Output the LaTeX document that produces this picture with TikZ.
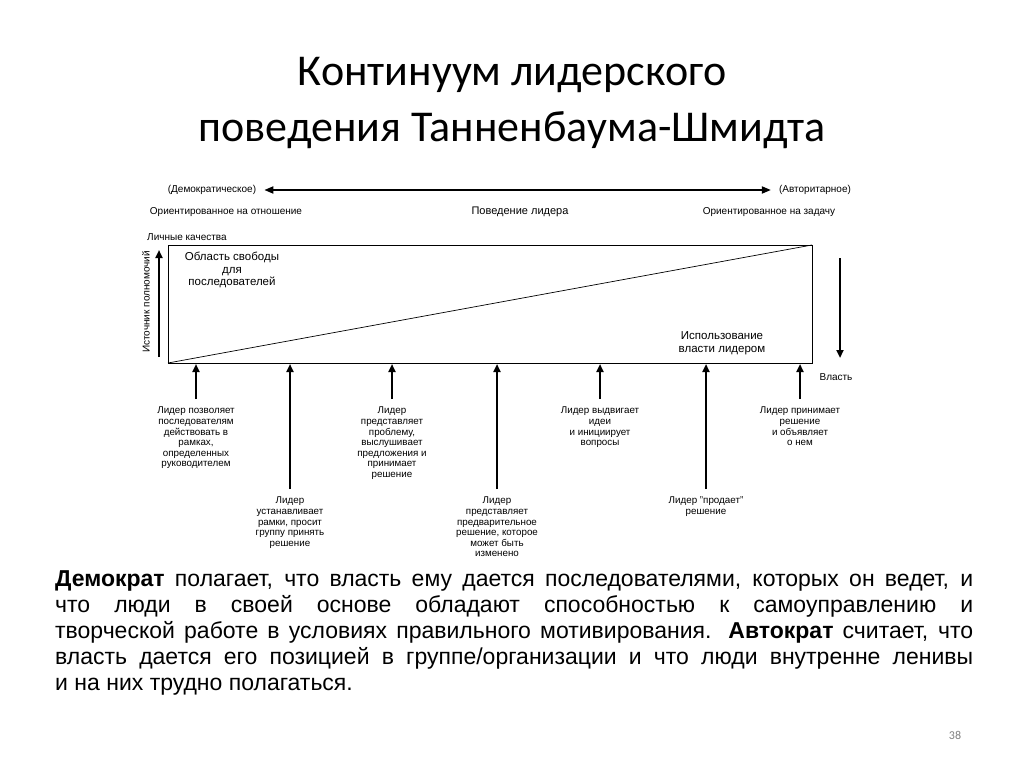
\documentclass[tikz,border=0pt]{standalone}
\usepackage{fontspec}
\setmainfont{Liberation Sans}
\newfontfamily\titlefont{Carlito}
\usetikzlibrary{arrows.meta}
\begin{document}
\begin{tikzpicture}[x=1pt,y=-1pt,
  sm/.style={font=\fontsize{9.8}{10.6}\selectfont, align=center, inner sep=0pt},
  lbl/.style={font=\fontsize{10}{12}\selectfont, inner sep=0pt},
  big/.style={font=\fontsize{11.5}{12.5}\selectfont, align=center, inner sep=0pt},
  thick arrow/.style={line width=2pt,-{Triangle[length=8pt,width=7pt]}}]
\useasboundingbox (0,0) rectangle (1024,767);
\node[font=\titlefont\fontsize{44}{56}\selectfont, align=center] (title) at (512,103) {Континуум лидерского\\поведения Танненбаума-Шмидта};
% top row
\node[lbl] (dem) at (212,190) {(Демократическое)};
\node[lbl] (aut) at (815,190) {(Авторитарное)};
\draw[line width=1.8pt,{Triangle[length=9pt,width=7pt]}-{Triangle[length=9pt,width=7pt]}] (dem.east)++(8,0) coordinate (d1) (aut.west)++(-8,0) coordinate (a1) (d1) -- (a1);
\node[lbl] (rel) at (226,212) {Ориентированное на отношение};
\node[font=\fontsize{11}{13}\selectfont, inner sep=0pt] (beh) at (520,212) {Поведение лидера};
\node[lbl] (task) at (769,212) {Ориентированное на задачу};
\node[lbl, anchor=west] (pers) at (147,237) {Личные качества};
% box
\coordinate (bl) at (168,363); \coordinate (tr) at (812,245);
\draw[line width=1pt] (bl) rectangle (tr);
\draw[line width=0.7pt] (bl) -- (tr);
\node[big] (free) at (232,270) {Область свободы\\для\\последователей};
\node[big] (use) at (722,343) {Использование\\власти лидером};
% side arrows
\coordinate (lu0) at (159,357); \coordinate (lu1) at (159,250);
\draw[thick arrow] (lu0) -- (lu1);
\node[lbl, rotate=90] (src) at (146,302) {Источник полномочий};
\coordinate (rd0) at (840,258); \coordinate (rd1) at (840,358);
\draw[thick arrow] (rd0) -- (rd1);
\node[lbl] (power) at (836,377) {Власть};
% bottom
\foreach \x/\n/\len/\t in {
 196/b1/short/{Лидер позволяет\\последователям\\действовать в\\рамках,\\определенных\\руководителем},
 290/b2/long/{Лидер\\устанавливает\\рамки, просит\\группу принять\\решение},
 392/b3/short/{Лидер\\представляет\\проблему,\\выслушивает\\предложения и\\принимает\\решение},
 497/b4/long/{Лидер\\представляет\\предварительное\\решение, которое\\может быть\\изменено},
 600/b5/short/{Лидер выдвигает\\идеи\\и инициирует\\вопросы},
 706/b6/long/{Лидер "продает"\\решение},
 800/b7/short/{Лидер принимает\\решение\\и объявляет\\о нем}}{
  \def\tmp{short}
  \ifx\len\tmp
    \node[sm, anchor=north] (\n) at (\x,407) {\t};
  \else
    \node[sm, anchor=north] (\n) at (\x,497) {\t};
  \fi
  \draw[thick arrow] ([yshift=8pt]\n.north) -- (\x,364);
}
% paragraph
\node[font=\fontsize{23}{26}\selectfont, text width=918pt, align=justify, anchor=north west, inner sep=0pt] (para) at (55,570)
{\textbf{Демократ} полагает, что власть ему дается последователями, которых он ведет, и\linebreak
что люди в своей основе обладают способностью к самоуправлению и\linebreak
творческой работе в условиях правильного мотивирования. \textbf{Автократ} считает, что\linebreak
власть дается его позицией в группе/организации и что люди внутренне ленивы\linebreak
и на них трудно полагаться.};
\node[font=\titlefont\fontsize{12}{14}\selectfont, text=gray] (pg) at (955,735) {38};
\end{tikzpicture}
\end{document}
